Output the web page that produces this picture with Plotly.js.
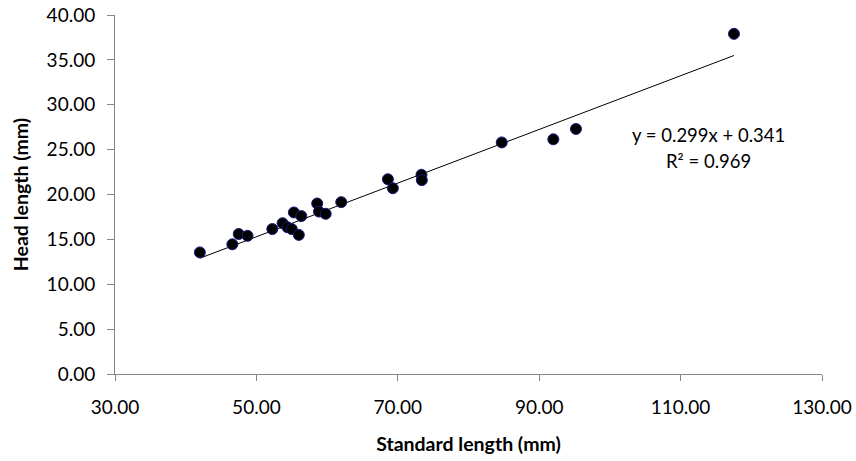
<!DOCTYPE html>
<html>
<head>
<meta charset="utf-8">
<script src="https://cdn.plot.ly/plotly-3.0.1.min.js"></script>
<style>
  html, body { margin: 0; padding: 0; background: #fff; }
  #chart { width: 856px; height: 461px; }
</style>
</head>
<body>
<div id="chart"></div>
<script>
// Standard length vs head length of the measured specimens (mm)
const standardLength = [42.0, 46.6, 47.5, 48.75, 52.25, 53.7, 54.4, 55.0, 56.0, 55.3, 56.35,
  58.6, 58.85, 59.8, 62.0, 68.6, 69.3, 73.35, 73.4, 84.7, 92.0, 95.2, 117.55];
const headLength = [13.55, 14.45, 15.6, 15.4, 16.15, 16.8, 16.35, 16.15, 15.5, 18.0, 17.6,
  19.0, 18.1, 17.85, 19.15, 21.7, 20.7, 22.2, 21.6, 25.8, 26.15, 27.3, 37.9];

// Linear trendline coefficients, as printed on the chart
const slope = 0.299;
const intercept = 0.341;
const rSquared = 0.969;

const xMin = Math.min(...standardLength);
const xMax = Math.max(...standardLength);
const trendX = [xMin, xMax];
const trendY = trendX.map(v => slope * v + intercept);

const font = 'Lato, "Open Sans", sans-serif';
const axisGrey = '#868686';

const traces = [
  {
    x: trendX, y: trendY, type: 'scatter', mode: 'lines',
    line: { color: '#000000', width: 1 }, hoverinfo: 'skip'
  },
  {
    x: standardLength, y: headLength, type: 'scatter', mode: 'markers',
    marker: { size: 11, color: '#000000', line: { color: '#1a1a80', width: 1 } }
  }
];

const layout = {
  width: 856, height: 461,
  margin: { l: 115, r: 34, t: 15, b: 87 },
  paper_bgcolor: '#ffffff', plot_bgcolor: '#ffffff',
  showlegend: false,
  font: { family: font, size: 19, color: '#000000' },
  xaxis: {
    range: [30, 130], tick0: 30, dtick: 20, tickformat: '.2f',
    showgrid: false, zeroline: false,
    showline: true, linecolor: axisGrey, linewidth: 1,
    ticks: 'outside', ticklen: 6, tickcolor: axisGrey, tickwidth: 1,
    ticklabelstandoff: 10,
    tickfont: { family: font, size: 19, color: '#000000' },
    title: { text: '<b>Standard length (mm)</b>', standoff: 20,
             font: { family: font, size: 19.5, color: '#000000' } }
  },
  yaxis: {
    range: [0, 40], tick0: 0, dtick: 5, tickformat: '.2f',
    showgrid: false, zeroline: false,
    showline: true, linecolor: axisGrey, linewidth: 1,
    ticks: 'outside', ticklen: 7, tickcolor: axisGrey, tickwidth: 1,
    ticklabelstandoff: 8,
    tickfont: { family: font, size: 19, color: '#000000' },
    title: { text: '<b>Head length (mm)</b>', standoff: 12,
             font: { family: font, size: 19.5, color: '#000000' } }
  },
  annotations: [
    {
      xref: 'paper', yref: 'paper', x: 0.84, y: 0.666,
      xanchor: 'center', yanchor: 'middle', showarrow: false,
      text: 'y = ' + slope.toFixed(3) + 'x + ' + intercept.toFixed(3),
      font: { family: font, size: 18.5, color: '#000000' }
    },
    {
      xref: 'paper', yref: 'paper', x: 0.84, y: 0.592,
      xanchor: 'center', yanchor: 'middle', showarrow: false,
      text: 'R² = ' + rSquared.toFixed(3),
      font: { family: font, size: 18.5, color: '#000000' }
    }
  ]
};

Plotly.newPlot('chart', traces, layout, { staticPlot: true, displayModeBar: false });
</script>
</body>
</html>
